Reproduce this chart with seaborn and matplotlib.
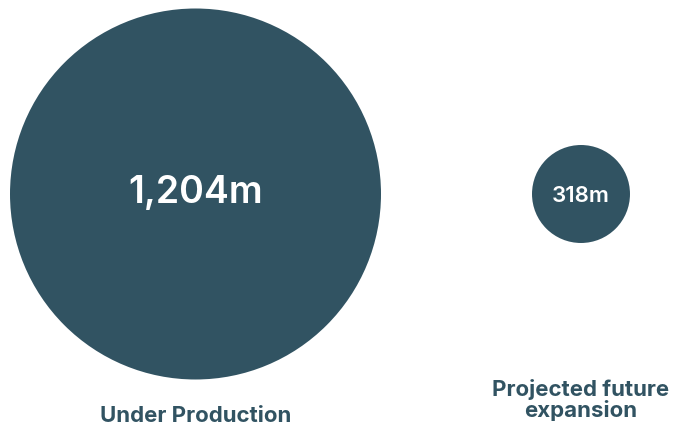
import matplotlib
matplotlib.use("Agg")
import matplotlib.pyplot as plt
import seaborn as sns
import pandas as pd

# Data
categories = ["Under Production", "Projected future\nexpansion"]
values = [1204, 318]
value_labels = ["1,204m", "318m"]

COLOR = "#315362"
DPI = 100
W, H = 673, 425

sns.set_theme(style="white")
plt.rcParams["font.family"] = ["Inter", "DejaVu Sans"]

df = pd.DataFrame({"category": categories, "pos": [0, 1], "y": [0, 0], "value": values})

# Circle radius scales linearly with value (px per unit)
px_per_unit = 185.5 / 1204
diam_pt = {v: 2 * v * px_per_unit * 72 / DPI for v in values}
sizes = {v: d ** 2 for v, d in diam_pt.items()}

fig = plt.figure(figsize=(W / DPI, H / DPI), dpi=DPI)
ax = fig.add_axes([0, 0, 1, 1])

sns.scatterplot(data=df, x="pos", y="y", size="value", sizes=sizes,
                color=COLOR, edgecolor="none", linewidth=0, legend=False, ax=ax)

# Axis limits in pixel-like units, circle centres at y = 0
x0, step = 195.5, 385.5
ax.set_xlim(-x0 / step, (W - x0) / step)
yc = 194
ax.set_ylim(-(H - yc), yc)
ax.set_axis_off()

# Values inside circles
ax.text(0, yc - 203, value_labels[0], color="white", fontsize=27,
        fontweight="semibold", ha="center", va="baseline")
ax.text(1, yc - 202, value_labels[1], color="white", fontsize=16,
        fontweight="semibold", ha="center", va="baseline")

# Category labels below
ax.text(0, yc - 422, categories[0], color=COLOR, fontsize=16,
        fontweight="bold", ha="center", va="baseline")
ax.text(1, yc - 417, categories[1], color=COLOR, fontsize=16,
        fontweight="bold", ha="center", va="baseline",
        multialignment="center", linespacing=0.98)

fig.savefig("out.png", dpi=DPI, facecolor="white")
